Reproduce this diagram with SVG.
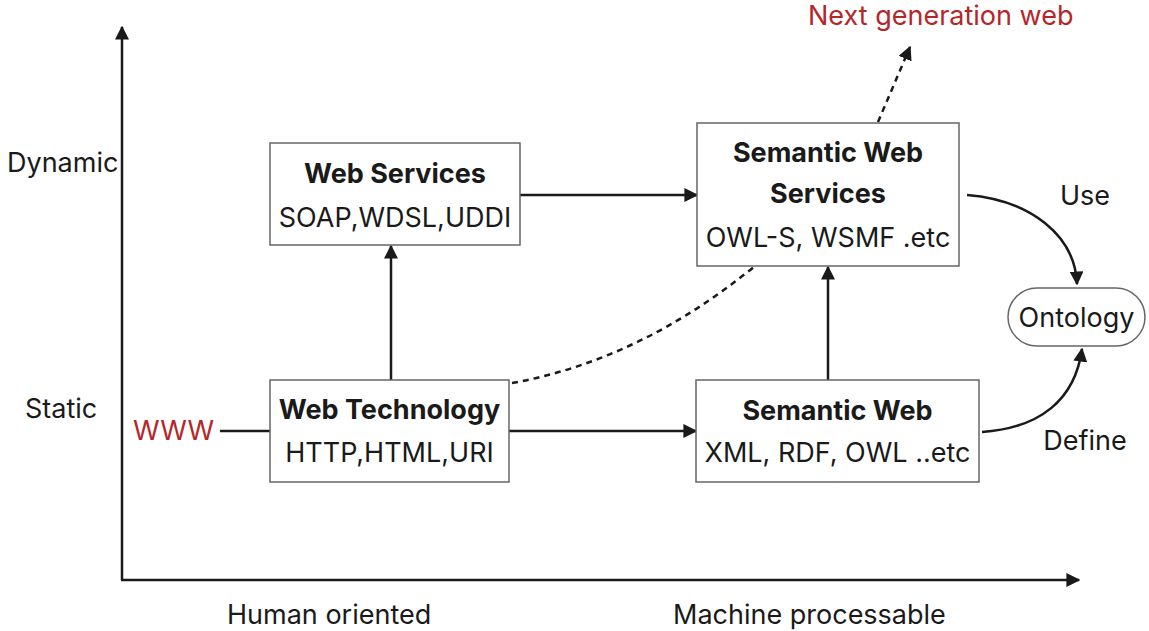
<svg xmlns="http://www.w3.org/2000/svg" width="1149" height="631" viewBox="0 0 1149 631">
  <style>
    text { font-family: Inter, "Noto Sans", "Liberation Sans", sans-serif; fill: #1a1a1a; }
    .lbl { font-size: 27px; }
    .title { font-size: 27px; font-weight: 700; text-anchor: middle; }
    .sub { font-size: 27px; text-anchor: middle; }
    .red { fill: #b5262a; }
    .box { fill: #ffffff; stroke: #666666; stroke-width: 1.5; }
    .edge { fill: none; stroke: #1a1a1a; stroke-width: 2.5; }
    .dash { fill: none; stroke: #1a1a1a; stroke-width: 2.5; stroke-dasharray: 6 5; }
  </style>
  <defs>
    <marker id="arrow" viewBox="0 0 10 10" refX="9" refY="5" markerWidth="5.6" markerHeight="5.6" markerUnits="strokeWidth" orient="auto">
      <path d="M0,0 L10,5 L0,10 Z" fill="#1a1a1a"/>
    </marker>
  </defs>

  <rect width="1149" height="631" fill="#ffffff"/>

  <!-- axes -->
  <g id="axes">
    <line class="edge" x1="122" y1="580" x2="122" y2="27" marker-end="url(#arrow)"/>
    <line class="edge" x1="121" y1="580" x2="1079" y2="580" marker-end="url(#arrow)"/>
    <text class="lbl" x="7" y="172">Dynamic</text>
    <text class="lbl" x="25" y="418">Static</text>
    <text class="lbl" x="227" y="624">Human oriented</text>
    <text class="lbl" x="673" y="624">Machine processable</text>
  </g>

  <!-- connectors -->
  <g id="connectors">
    <line class="edge" x1="220" y1="431" x2="270" y2="431"/>
    <line class="edge" x1="509" y1="431" x2="696" y2="431" marker-end="url(#arrow)"/>
    <line class="edge" x1="391" y1="380" x2="391" y2="246" marker-end="url(#arrow)"/>
    <line class="edge" x1="520" y1="195" x2="697" y2="195" marker-end="url(#arrow)"/>
    <line class="edge" x1="828" y1="380" x2="828" y2="267" marker-end="url(#arrow)"/>
    <path class="dash" d="M512,383 Q640,360 755,266"/>
    <path class="dash" d="M878,122 L910,47" marker-end="url(#arrow)"/>
    <path class="edge" d="M967,195 C1030,200 1075,235 1077,284" marker-end="url(#arrow)"/>
    <path class="edge" d="M982,432 C1040,428 1075,400 1082,349" marker-end="url(#arrow)"/>
  </g>

  <!-- nodes -->
  <g id="www">
    <text class="lbl red" x="133" y="440">WWW</text>
  </g>

  <g id="web-services">
    <rect class="box" x="270" y="143" width="250" height="102"/>
    <text class="title" x="395" y="183">Web Services</text>
    <text class="sub" x="395" y="227">SOAP,WDSL,UDDI</text>
  </g>

  <g id="web-technology">
    <rect class="box" x="270" y="380" width="239" height="102"/>
    <text class="title" x="389.5" y="419">Web Technology</text>
    <text class="sub" x="389.5" y="462">HTTP,HTML,URI</text>
  </g>

  <g id="semantic-web-services">
    <rect class="box" x="697" y="123" width="262" height="143"/>
    <text class="title" x="828" y="162">Semantic Web</text>
    <text class="title" x="828" y="203">Services</text>
    <text class="sub" x="828" y="247">OWL-S, WSMF .etc</text>
  </g>

  <g id="semantic-web">
    <rect class="box" x="696" y="380" width="283" height="102"/>
    <text class="title" x="837.5" y="420">Semantic Web</text>
    <text class="sub" x="837.5" y="462">XML, RDF, OWL ..etc</text>
  </g>

  <g id="ontology">
    <rect class="box" x="1008" y="288" width="137" height="58" rx="29" ry="29"/>
    <text class="sub" x="1076.5" y="327">Ontology</text>
  </g>

  <g id="labels">
    <text class="lbl" x="1085" y="205" text-anchor="middle">Use</text>
    <text class="lbl" x="1085" y="450" text-anchor="middle">Define</text>
    <text class="lbl red" x="808" y="25">Next generation web</text>
  </g>
</svg>
